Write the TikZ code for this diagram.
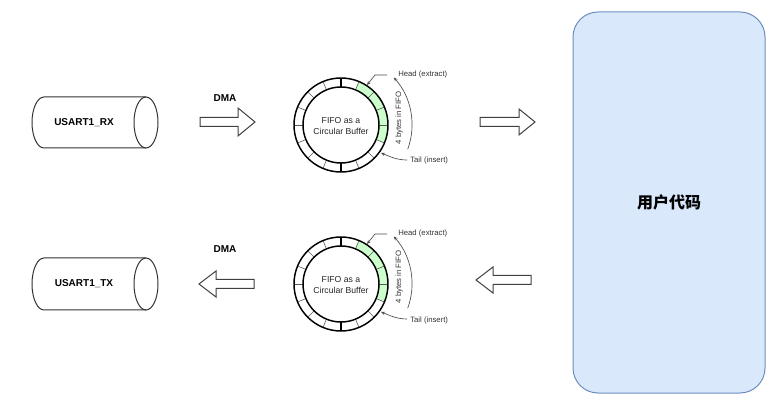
\documentclass[tikz,border=0pt]{standalone}
\usepackage{fontspec}
\setmainfont{Liberation Sans}
\newfontfamily\cjk{Noto Sans CJK SC}
\usetikzlibrary{arrows.meta}
\definecolor{fifogreen}{HTML}{CCFFCC}
\definecolor{userfill}{HTML}{DAE8FC}
\definecolor{userdraw}{HTML}{6C8EBF}
\tikzset{
  cyl/.style={draw=black!80, line width=0.75pt},
  blockarrow/.style={draw=black!75, fill=white, line width=0.75pt, line join=miter},
  boldlabel/.style={font=\fontsize{7.5}{9}\selectfont\bfseries, inner sep=0pt},
  smalllabel/.style={font=\fontsize{5.8}{6.5}\selectfont, text=black!80, inner sep=0pt},
  pointer/.style={draw=black!70, line width=0.5pt, -{Stealth[length=3pt,width=2.5pt]}},
  fifo/.pic={
    \fill[fifogreen] (-22.5:38) arc[start angle=-22.5,end angle=67.5,radius=38]
      -- (67.5:47) arc[start angle=67.5,end angle=-22.5,radius=47] -- cycle;
    \foreach \a in {0,22.5,...,337.5} \draw[black!65, line width=0.45pt] (\a:38) -- (\a:47);
    \draw[line width=1.1pt] (90:38) -- (90:47) (270:38) -- (270:47);
    \draw[line width=1.1pt] (0,0) circle[radius=47] (0,0) circle[radius=38];
    \node[align=center, font=\fontsize{6.5}{8.25}\selectfont, text=black!85, inner sep=0pt] (txt) at (0,-1) {FIFO as a\\Circular Buffer};
    \node[smalllabel, anchor=west] (head) at (57,50) {Head (extract)};
    \node[smalllabel, anchor=west] (tail) at (69,-36) {Tail (insert)};
    \node[smalllabel, rotate=90] (bytes) at (58,7) {4 bytes in FIFO};
    \draw[pointer] (46,50) -- (34,50) -- (26,40);
    \draw[pointer] (66,-35) .. controls (55,-35) and (48,-31) .. (40,-28);
    \draw[pointer] (-20:71) arc[start angle=-20,end angle=42,radius=71];
  }
}
\begin{document}
\begin{tikzpicture}[x=0.75pt,y=0.75pt]
\useasboundingbox (0,0) rectangle (781,414);
% RX cylinder
\draw[cyl] (146,317) -- (44,317) arc[start angle=90,end angle=270,x radius=12,y radius=25.5] -- (146,266);
\draw[cyl] (146,291.5) ellipse[x radius=12,y radius=25.5];
\node[boldlabel] (rx) at (84,291) {USART1\_RX};
% TX cylinder
\draw[cyl] (146,156) -- (44,156) arc[start angle=90,end angle=270,x radius=12,y radius=26] -- (146,104);
\draw[cyl] (146,130) ellipse[x radius=12,y radius=26];
\node[boldlabel] (tx) at (84,130) {USART1\_TX};
% DMA labels
\node[boldlabel] (dma1) at (225,316) {DMA};
\node[boldlabel] (dma2) at (225,165) {DMA};
% block arrows
\draw[blockarrow] (200,287.5) -- (238,287.5) -- (238,278) -- (255,292) -- (238,306) -- (238,296.5) -- (200,296.5) -- cycle;
\draw[blockarrow] (480,287.5) -- (519,287.5) -- (519,279) -- (535,292) -- (519,305) -- (519,296.5) -- (480,296.5) -- cycle;
\draw[blockarrow] (254,125.5) -- (216,125.5) -- (216,117) -- (199,130) -- (216,143) -- (216,134.5) -- (254,134.5) -- cycle;
\draw[blockarrow] (531,129.5) -- (493,129.5) -- (493,121) -- (476,134) -- (493,147) -- (493,138.5) -- (531,138.5) -- cycle;
% FIFOs
\pic (fifoA) at (341,289) {fifo};
\pic (fifoB) at (341,130) {fifo};
% user code
\node[draw=userdraw, fill=userfill, line width=0.75pt, rounded corners=18.75pt,
      minimum width=144pt, minimum height=285.75pt, font=\cjk\bfseries\fontsize{12}{14}\selectfont] (user) at (669,211.5) {用户代码};
\end{tikzpicture}
\end{document}
